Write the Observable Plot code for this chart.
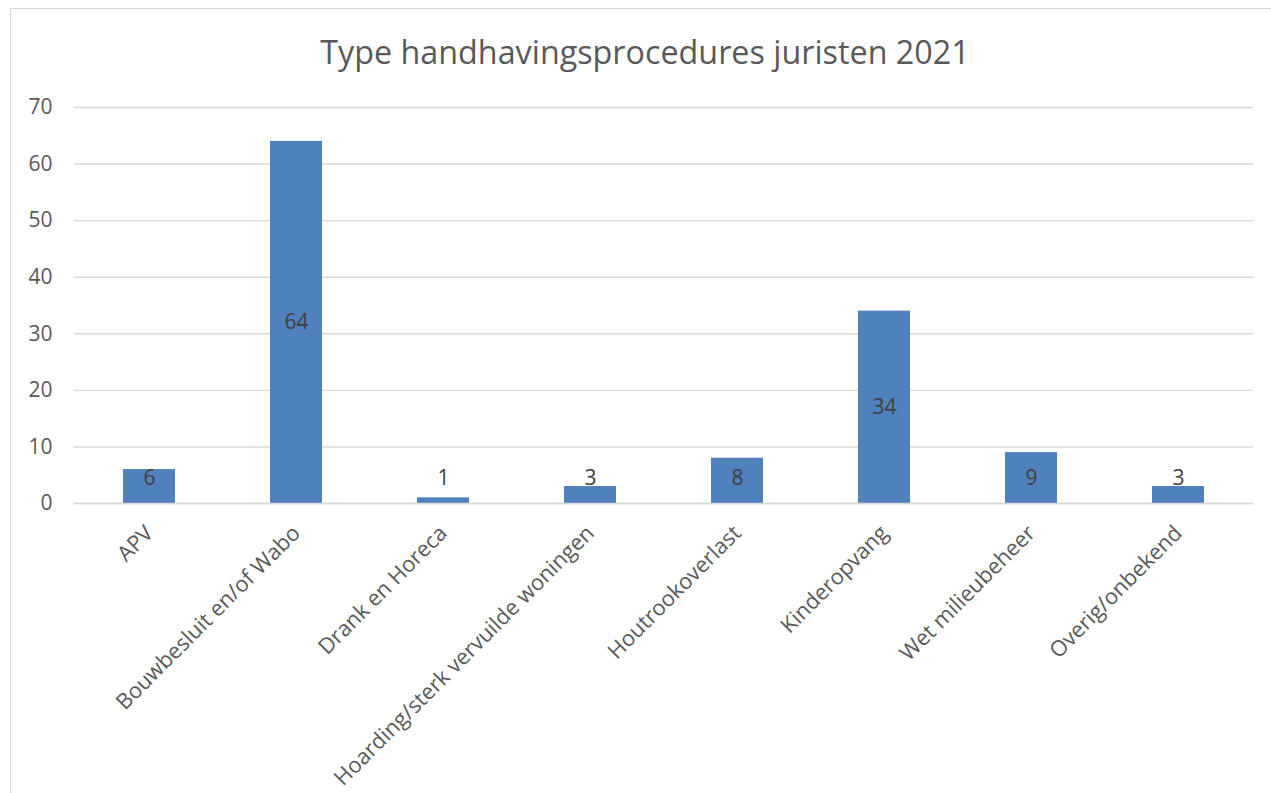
<!DOCTYPE html>
<html>
<head>
<meta charset="utf-8">
<script src="https://cdn.jsdelivr.net/npm/d3@7"></script>
<script src="https://cdn.jsdelivr.net/npm/@observablehq/plot@0.6"></script>
<style>
  html, body { margin: 0; padding: 0; background: #fff; overflow: hidden; width: 1271px; height: 793px; }
  #frame { position: absolute; left: 10px; top: 8px; width: 1400px; height: 1000px; border: 1.5px solid #d9d9d9; box-sizing: border-box; }
  #title { position: absolute; left: 0; width: 1290px; top: 29px; text-align: center; font-family: "Open Sans", sans-serif; font-size: 32.3px; color: #595959; line-height: 44px; white-space: nowrap; }
  #chart { position: absolute; left: 0; top: 80px; }
  #chart svg { overflow: visible; }
</style>
</head>
<body>
<div id="frame"></div>
<div id="title">Type handhavingsprocedures juristen 2021</div>
<div id="chart"></div>
<script>
const categories = ["APV", "Bouwbesluit en/of Wabo", "Drank en Horeca", "Hoarding/sterk vervuilde woningen", "Houtrookoverlast", "Kinderopvang", "Wet milieubeheer", "Overig/onbekend"];
const values = [6, 64, 1, 3, 8, 34, 9, 3];
const yTicks = [0, 10, 20, 30, 40, 50, 60, 70];

const data = categories.map((c, i) => ({category: c, value: values[i]}));

const chart = Plot.plot({
  width: 1271,
  height: 713,
  marginLeft: 74,
  marginRight: 18,
  marginTop: 27,
  marginBottom: 290,
  style: {fontFamily: "Open Sans, sans-serif", fontSize: "21px", color: "#595959", background: "transparent"},
  x: {domain: categories, paddingInner: 0.647, paddingOuter: 0.3235, label: null},
  y: {domain: [0, 70], ticks: yTicks, label: null, tickSize: 0, tickPadding: 22},
  marks: [
    Plot.gridY(yTicks, {stroke: "#d9d9d9", strokeOpacity: 1, strokeWidth: 1.4}),
    Plot.barY(data, {x: "category", y: "value", fill: "#4f81bd"}),
    Plot.ruleY([0], {stroke: "#d9d9d9", strokeWidth: 1.4}),
    Plot.axisX({tickSize: 0, tickPadding: 26, tickRotate: -45, fontSize: 21.8, label: null}),
    Plot.text(data, {x: "category", y: d => Math.max(d.value / 2, 4.4), text: d => String(d.value), fill: "#404040", fontSize: 21})
  ]
});
document.getElementById("chart").appendChild(chart);
</script>
</body>
</html>
